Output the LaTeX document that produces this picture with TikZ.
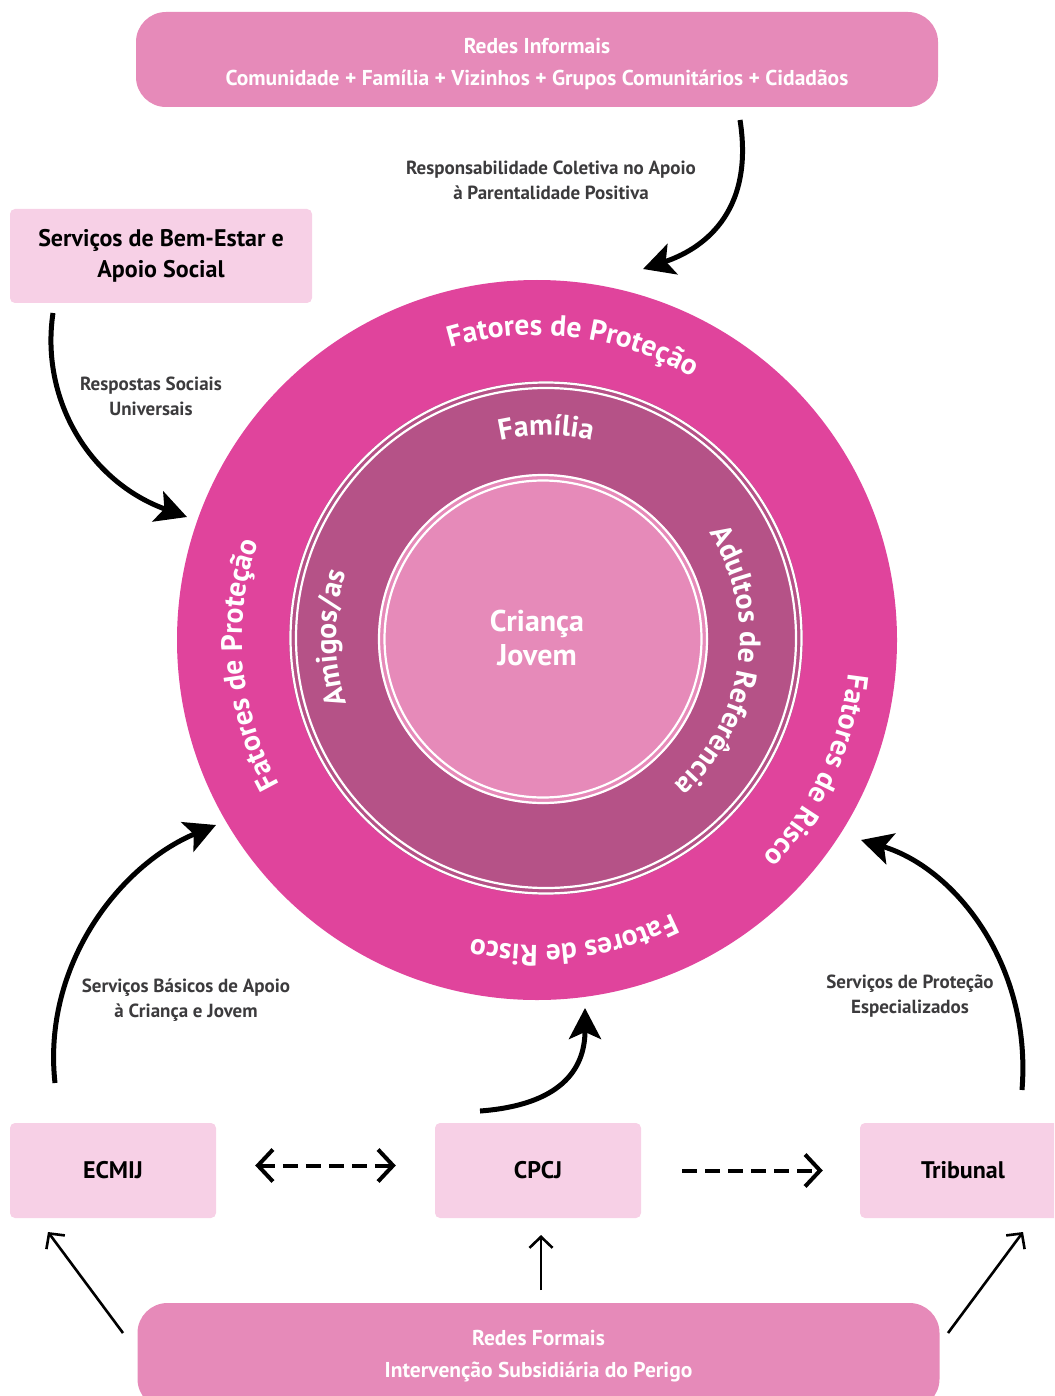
\documentclass[tikz,border=0pt]{standalone}
\usepackage{fontspec}
\setmainfont{PT Sans}
\usetikzlibrary{arrows.meta,decorations.text}
\definecolor{rosaforte}{HTML}{E0449C}
\definecolor{malva}{HTML}{B55287}
\definecolor{rosa}{HTML}{E68AB9}
\definecolor{rosaclaro}{HTML}{F7D0E6}
\definecolor{cinza}{HTML}{3C3B3D}
\newcommand{\tam}[2]{\fontsize{#1pt}{#2pt}\selectfont}
\begin{document}
\begin{tikzpicture}[x=1pt, y=-1pt, line join=round,
	rede/.style={fill=rosa, rounded corners=30pt, minimum width=802pt, minimum height=95pt, inner sep=0pt, align=center, text=white, font=\tam{21.5}{32}\bfseries},
	caixa/.style={fill=rosaclaro, rounded corners=5pt, minimum width=206pt, minimum height=95pt, inner sep=0pt, align=center, font=\tam{24}{31}\bfseries},
	legenda/.style={text=cinza, align=center, font=\tam{19}{25}\bfseries},
	seta/.style={line width=5pt, -{Stealth[length=31pt, width=32pt, inset=7pt]}},
	farpa/.tip={Straight Barb[length=15pt, width=32pt]},
	tracejada/.style={line width=4pt, dash pattern=on 15pt off 8pt},
	fina/.style={line width=2.6pt, -{Straight Barb[length=11pt, width=23pt]}},
	anel/.style={decorate, decoration={text along path, text align=center, text color=white, text={|\tam{29.5}{34}\bfseries|#1}}}]
	\useasboundingbox (0,0) rectangle (1054,1396);
	\clip (0,0) rectangle (1054,1396);
	% circulos
	\coordinate (centro) at (537,640);
	\coordinate (meio) at (546,638);
	\coordinate (nucleo) at (543,639);
	\fill[rosaforte] (centro) circle[radius=360];
	\fill[malva] (meio) circle[radius=257];
	\draw[white, line width=2.2pt] (meio) circle[radius=255.5] (meio) circle[radius=250];
	\fill[rosa] (nucleo) circle[radius=165];
	\draw[white, line width=2.2pt] (nucleo) circle[radius=164] (nucleo) circle[radius=158.5];
	\node[text=white, align=center, font=\tam{30}{34}\bfseries] (crianca) at (537,638) {Criança\\Jovem};
	% textos em arco
	\path[anel={Fatores de Proteção}] (centro) ++(-128:305) arc[start angle=-128, end angle=-38, radius=305];
	\path[anel={Fatores de Proteção}] (centro) ++(130:295) arc[start angle=130, end angle=220, radius=295];
	\path[anel={Fatores de Risco}] (centro) ++(-20:313) arc[start angle=-20, end angle=70, radius=313];
	\path[anel={Fatores de Risco}] (centro) ++(38:305) arc[start angle=38, end angle=128, radius=305];
	\path[anel={Família}] (meio) ++(-135:203) arc[start angle=-135, end angle=-45, radius=203];
	\path[anel={Amigos/as}] (meio) ++(135:210) arc[start angle=135, end angle=225, radius=210];
	\path[anel={Adultos de Referência}] (meio) ++(-82:194) arc[start angle=-82, end angle=98, radius=194];
	% caixas
	\node[rede] (informais) at (537,59.5) {\rule{0pt}{24pt}Redes Informais\\Comunidade + Família + Vizinhos + Grupos Comunitários + Cidadãos};
	\node[caixa, minimum width=302pt, minimum height=94pt] (bemestar) at (161,256) {Serviços de Bem-Estar e\\Apoio Social};
	\node[caixa] (ecmij) at (113,1170.5) {ECMIJ};
	\node[caixa] (cpcj) at (538,1170.5) {CPCJ};
	\node[caixa] (tribunal) at (963,1170.5) {Tribunal};
	\node[rede, minimum height=106pt] (formais) at (538.5,1356) {Redes Formais\\Intervenção Subsidiária do Perigo};
	% legendas
	\node[legenda] (responsabilidade) at (551,180.5) {Responsabilidade Coletiva no Apoio\\à Parentalidade Positiva};
	\node[legenda] (respostas) at (151,396.5) {Respostas Sociais\\Universais};
	\node[legenda] (basicos) at (186,1000.5) {Serviços Básicos de Apoio\\à Criança e Jovem};
	\node[legenda] (protecao) at (910,996.5) {Serviços de Proteção\\Especializados};
	% setas curvas
	\coordinate (informais-sai) at (740,120);
	\coordinate (circulo-topo) at (643,269);
	\coordinate (bemestar-sai) at (53,313);
	\coordinate (circulo-esq) at (187,517);
	\coordinate (ecmij-sai) at (55,1083);
	\coordinate (circulo-baixoesq) at (216,825);
	\coordinate (cpcj-sai) at (480,1111);
	\coordinate (circulo-baixo) at (585,1008);
	\coordinate (tribunal-sai) at (1022,1090);
	\coordinate (circulo-baixodir) at (861,840);
	\draw[seta] (informais-sai) .. controls (755,215) and (700,250) .. (circulo-topo);
	\draw[seta] (bemestar-sai) .. controls (40,400) and (90,482) .. (circulo-esq);
	\draw[seta] (ecmij-sai) .. controls (42,965) and (120,865) .. (circulo-baixoesq);
	\draw[seta] (cpcj-sai) .. controls (560,1105) and (585,1070) .. (circulo-baixo);
	\draw[seta] (tribunal-sai) .. controls (1032,965) and (955,868) .. (circulo-baixodir);
	% setas tracejadas
	\draw[tracejada, farpa-farpa, shorten <=39pt, shorten >=39pt] ([yshift=5pt]ecmij.east) -- ([yshift=5pt]cpcj.west);
	\draw[tracejada, -farpa, shorten <=41pt, shorten >=37pt] (cpcj) -- (tribunal);
	% setas das redes formais
	\coordinate (formais-esq) at (123,1333);
	\coordinate (ecmij-baixo) at (48,1232);
	\coordinate (formais-topo) at (541,1290);
	\coordinate (cpcj-baixo) at (541,1235);
	\coordinate (formais-dir) at (948,1333);
	\coordinate (tribunal-baixo) at (1023,1232);
	\draw[fina] (formais-esq) -- (ecmij-baixo);
	\draw[fina] (formais-topo) -- (cpcj-baixo);
	\draw[fina] (formais-dir) -- (tribunal-baixo);
\end{tikzpicture}
\end{document}
